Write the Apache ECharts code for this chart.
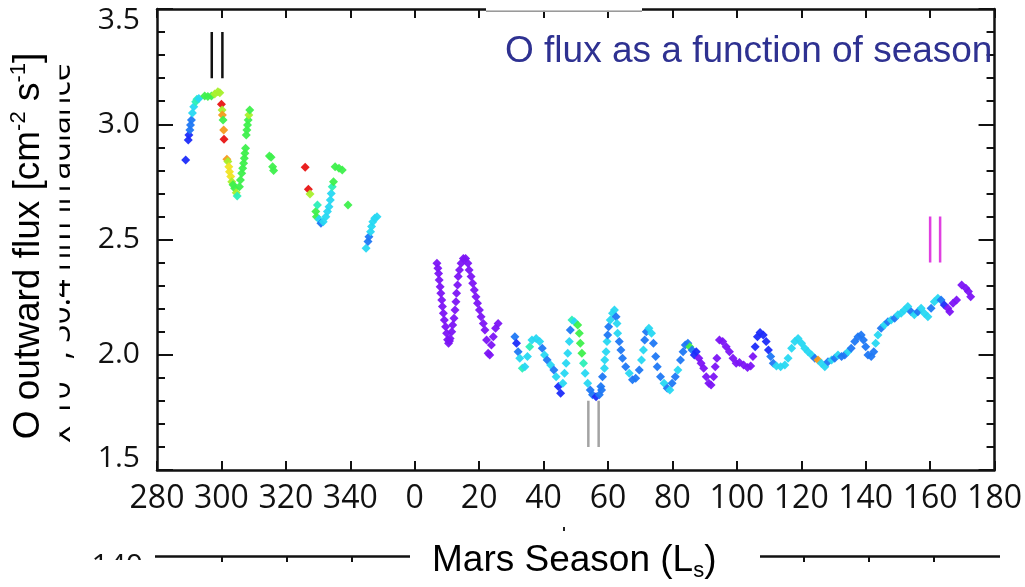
<!DOCTYPE html>
<html><head><meta charset="utf-8">
<script src="https://cdn.jsdelivr.net/npm/echarts@6/dist/echarts.min.js"></script>
<style>html,body{margin:0;padding:0;background:#fff}#c{width:1025px;height:587px}</style>
</head><body><div id="c"></div>
<script>
// ---------- DATA ----------
// Each point: [Ls (deg), O outward flux, colour code 0..9]
const segment1 = [
 [288.9,2.845,1],[289.7,2.932,1],[289.9,2.953,1],[290.2,2.975,2],[290.4,2.997,2],[290.7,3.018,2],
 [291.0,3.049,3],[291.4,3.076,3],[292.0,3.098,4],[292.4,3.108,4],[293.0,3.112,3],[294.8,3.123,5],
 [295.8,3.120,5],[296.9,3.123,5],[297.9,3.131,6],[298.9,3.141,6],[299.5,3.137,6],[300.0,3.087,9],
 [300.2,3.062,6],[300.3,3.040,8],[300.5,3.018,5],[300.7,2.975,8],[300.8,2.935,9],[301.7,2.848,8],
 [302.0,2.838,6],[302.3,2.816,7],[302.5,2.794,7],[302.9,2.773,7],[303.2,2.751,6],[303.6,2.737,5],
 [304.1,2.722,5],[304.6,2.703,6],[304.9,2.689,4],[305.6,2.729,5],[305.9,2.758,5],[306.3,2.787,5],
 [306.6,2.809,5],[306.9,2.831,5],[307.1,2.852,5],[307.3,2.874,5],[307.5,2.896,5],[307.7,2.953,5],
 [307.9,2.975,5],[308.1,2.997,5],[308.3,3.018,5],[308.5,3.040,6],[308.8,3.062,5]
];
const segment2 = [[314.9,2.862,5],[315.4,2.857,5],[315.9,2.816,5],[316.2,2.799,5]];
const segment3 = [
 [326.0,2.813,9],[327.0,2.718,9],[327.5,2.697,6],[329.3,2.621,5],[329.5,2.599,5],[329.8,2.650,4],
 [330.3,2.588,3],[330.9,2.570,2],[331.6,2.577,3],[332.4,2.599,3],[332.9,2.621,3],[333.4,2.642,3],
 [333.8,2.671,3],[334.1,2.700,3],[334.4,2.729,4],[334.8,2.751,5],[335.3,2.816,5],[336.5,2.809,5],
 [337.5,2.802,5],[339.3,2.650,5]
];
const segment4 = [
 [344.9,2.462,3],[345.5,2.491,2],[345.8,2.512,2],[346.3,2.534,3],[346.6,2.556,3],[347.0,2.577,3],
 [347.6,2.592,3],[348.3,2.599,3]
];
const segment5 = [
 [6.9,2.397,0],[7.2,2.375,0],[7.4,2.353,0],[7.6,2.324,0],[7.9,2.295,0],[8.1,2.267,0],[8.4,2.238,0],
 [8.6,2.209,0],[8.9,2.180,0],[9.2,2.151,0],[9.6,2.122,0],[9.9,2.093,0],[10.2,2.065,0],[10.5,2.050,0],
 [10.8,2.060,0],[11.0,2.071,0],[11.5,2.100,0],[11.8,2.129,0],[12.2,2.158,0],[12.5,2.194,0],
 [12.8,2.230,0],[13.0,2.267,0],[13.3,2.303,0],[13.5,2.339,0],[13.9,2.368,0],[14.4,2.397,0],
 [15.1,2.418,0],[15.8,2.418,0],[16.5,2.397,0],[16.9,2.368,0],[17.5,2.339,0],[18.0,2.310,0],
 [18.5,2.281,0],[19.0,2.252,0],[19.5,2.223,0],[20.1,2.194,0],[20.6,2.165,0],[21.3,2.136,0],
 [21.8,2.107,0],[22.3,2.064,0],[22.8,2.006,0],[23.3,1.999,0],[23.8,2.042,0],[24.4,2.078,0],
 [25.1,2.115,0],[25.9,2.136,0]
];
const segment6 = [
 [31.1,2.078,2],[31.6,2.050,1],[32.1,2.013,2],[32.6,1.985,3],[33.4,1.941,4],[34.2,1.948,3],
 [35.0,1.992,3],[35.7,2.035,4],[36.4,2.064,3],[37.7,2.071,3],[38.8,2.057,3],[39.6,2.028,2],
 [40.3,1.999,3],[41.1,1.977,2],[42.2,1.956,3],[43.2,1.934,2],[43.9,1.905,3],[44.6,1.862,1],
 [45.3,1.833,1],[46.0,1.876,3],[46.5,1.920,3],[47.0,1.963,3],[47.5,2.006,3],[48.0,2.057,3],
 [48.3,2.107,2],[48.8,2.151,4],[49.6,2.143,3],[50.6,2.129,5],[51.1,2.093,5],[51.4,2.050,5],
 [51.9,2.006,5],[52.4,1.963,4],[52.9,1.920,3],[53.7,1.876,3],[54.5,1.847,2],[55.2,1.826,2],
 [56.3,1.818,1],[57.3,1.826,2],[58.0,1.847,2],[57.8,1.862,2],[58.3,1.905,2],[58.9,1.941,3],
 [59.0,1.977,3],[59.4,2.013,3],[59.7,2.057,3],[59.9,2.086,2],[60.2,2.122,2],[60.7,2.151,3],
 [61.4,2.180,3],[62.0,2.194,3],[62.5,2.165,2],[62.8,2.136,3],[63.0,2.093,3],[63.5,2.057,2],
 [64.0,2.021,2],[64.5,1.985,2],[65.5,1.948,2],[66.6,1.920,3],[67.6,1.891,2],[68.6,1.898,2],
 [69.7,1.934,2],[70.4,1.977,3],[71.0,2.021,3],[71.4,2.064,2],[71.9,2.100,2],[72.7,2.115,3],
 [73.5,2.093,3],[74.1,2.050,2],[74.8,1.992,2],[75.3,1.948,2],[76.3,1.905,2],[77.4,1.876,3],
 [78.4,1.855,2],[79.2,1.847,3],[79.9,1.876,2],[80.9,1.905,2],[81.7,1.934,3],[82.5,1.977,2],
 [83.3,2.013,2],[84.0,2.042,2],[84.8,2.050,2],[85.4,2.035,5],[86.1,2.021,2],[86.8,1.999,1],
 [87.4,2.013,1]
];
const segment7 = [
 [88.2,1.985,0],[88.9,1.963,0],[89.7,1.941,0],[90.5,1.905,0],[91.3,1.876,0],[92.0,1.869,0],
 [92.8,1.905,0],[93.3,1.948,0],[93.8,1.985,0],[94.6,2.064,0],[95.6,2.057,0],[96.7,2.035,0],
 [97.7,2.013,0],[98.8,1.985,0],[99.8,1.963,0],[100.8,1.966,0],[102.1,1.956,0],[103.3,1.945,0],
 [104.3,1.951,0],[105.0,1.992,0],[105.7,2.035,1],[106.4,2.078,1],[107.2,2.096,1],[108.2,2.086,1],
 [109.1,2.057,1],[109.8,2.021,1],[110.5,1.992,2],[111.3,1.963,2]
];
const segment8 = [
 [112.3,1.951,3],[113.6,1.948,3],[114.9,1.956,3],[115.9,1.985,3],[117.0,2.028,3],[118.0,2.057,3],
 [119.0,2.071,3],[120.1,2.050,3],[121.1,2.028,3],[122.1,2.013,3],[123.2,1.999,3],[124.2,1.985,2],
 [125.2,1.977,8],[126.2,1.963,3],[127.3,1.948,3],[128.3,1.970,2],[129.4,1.977,3],[130.4,1.985,2],
 [131.4,1.999,3],[132.5,1.992,2],[133.5,1.999,2],[134.5,2.013,3],[135.5,2.028,2],[136.6,2.057,2],
 [137.6,2.078,2],[138.6,2.086,2],[139.3,2.064,2],[140.0,2.035,2],[140.7,1.999,2],[141.7,1.992,2],
 [142.5,2.013,2],[143.1,2.050,3],[143.8,2.086,3],[144.8,2.115,2],[145.8,2.129,3],[146.9,2.143,2],
 [147.9,2.151,3],[149.0,2.158,2],[150.0,2.173,3],[151.0,2.180,3],[152.0,2.194,3],[153.1,2.209,3],
 [154.1,2.187,2],[155.1,2.173,3],[156.2,2.187,2],[157.2,2.202,3],[158.2,2.180,3],[159.3,2.165,3],
 [160.3,2.202,2],[161.3,2.230,3],[162.4,2.245,3],[163.4,2.238,2],[164.4,2.216,1],[165.5,2.202,0],
 [166.1,2.187,0],[167.1,2.223,0],[168.2,2.238,0],[169.8,2.303,0],[171.1,2.288,0],[171.9,2.274,0],
 [172.6,2.252,0]
];
// Paired vertical event markers [Ls of each line], [flux bottom, flux top]
const blackMarkLs = [297.0, 300.3];   const blackMarkFlux = [3.20, 3.40];
const greyMarkLs = [53.9, 57.1];      const greyMarkFlux = [1.60, 1.80];
const magentaMarkLs = [160.0, 163.1]; const magentaMarkFlux = [2.40, 2.60];

const xTickValues = [280,300,320,340,360,380,400,420,440,460,480,500,520,540];
const xTickLabels = ['280','300','320','340','0','20','40','60','80','100','120','140','160','180'];
const yTickValues = [1.5,2.0,2.5,3.0,3.5];
const yTickLabels = ['1.5','2.0','2.5','3.0','3.5'];

// ---------- CHART ----------
const toAxis = ls => (ls < 280 ? ls + 360 : ls);
const allPoints = [].concat(segment1, segment2, segment3, segment4, segment5, segment6, segment7, segment8)
  .map(p => [toAxis(p[0]), p[1], p[2]]);
const palette = ['#7c14f6','#1c2cfa','#1f78f4','#27d8f2','#2cefb8','#3ef04c','#a8f02c','#f0e424','#f59a1e','#e81414'];

const markSeries = [];
[[blackMarkLs, blackMarkFlux, '#111111'], [greyMarkLs, greyMarkFlux, '#a3a3a3'], [magentaMarkLs, magentaMarkFlux, '#e03fe0']]
 .forEach(([lsArr, fl, col]) => {
   lsArr.forEach(ls => {
     const x = toAxis(ls);
     markSeries.push({type:'line', data:[[x, fl[0]],[x, fl[1]]], symbol:'none', silent:true,
       lineStyle:{color:col, width:2.5}, z:5});
   });
 });

const axisCol = '#111';
const xLab = v => { const i = xTickValues.indexOf(Math.round(v)); return i >= 0 ? xTickLabels[i] : ''; };
const yLab = v => {
  const i = yTickValues.findIndex(t => Math.abs(t - v) < 1e-6);
  if (i < 0) return '';
  if (i === yTickValues.length - 1) return '{t|' + yTickLabels[i] + '}';
  if (i === 0) return '{b|' + yTickLabels[i] + '}';
  return '{n|' + yTickLabels[i] + '}';
};
const yFont = {fontFamily:'Open Sans', fontSize:30, color:'#111'};

const option = {
  backgroundColor:'#fff',
  animation:false,
  grid:{left:157, right:25, top:9, bottom:117, containLabel:false},
  xAxis:[
    {type:'value', min:280, max:540, interval:20, position:'bottom',
     axisLine:{lineStyle:{color:axisCol, width:2.5}},
     axisTick:{inside:true, length:9, lineStyle:{color:axisCol, width:2}},
     axisLabel:{margin:13, formatter:xLab, showMinLabel:true, showMaxLabel:true,
       fontFamily:'Open Sans', fontSize:32, color:'#111'},
     splitLine:{show:false}},
    {type:'value', min:280, max:540, interval:20, position:'top',
     axisLine:{lineStyle:{color:axisCol, width:2.5}},
     axisTick:{inside:true, length:9, lineStyle:{color:axisCol, width:2}},
     axisLabel:{show:false}, splitLine:{show:false}}
  ],
  yAxis:[
    {type:'value', min:1.5, max:3.5, interval:0.5, position:'left',
     axisLine:{lineStyle:{color:axisCol, width:2.5}},
     axisTick:{inside:true, length:16, lineStyle:{color:axisCol, width:2}},
     minorTick:{show:true, splitNumber:5, length:8, lineStyle:{color:axisCol, width:2}},
     axisLabel:Object.assign({margin:17, formatter:yLab, rich:{
        n:Object.assign({}, yFont),
        t:Object.assign({padding:[22,0,0,0]}, yFont),
        b:Object.assign({padding:[0,0,24,0]}, yFont)}}, yFont),
     splitLine:{show:false}},
    {type:'value', min:1.5, max:3.5, interval:0.5, position:'right',
     axisLine:{lineStyle:{color:axisCol, width:2.5}},
     axisTick:{inside:true, length:16, lineStyle:{color:axisCol, width:2}},
     minorTick:{show:true, splitNumber:5, length:8, lineStyle:{color:axisCol, width:2}},
     axisLabel:{show:false}, splitLine:{show:false}}
  ],
  visualMap:{type:'continuous', show:false, dimension:2, min:0, max:9, seriesIndex:0,
     inRange:{color:palette}},
  series:[
    {type:'scatter', data:allPoints, symbol:'diamond', symbolSize:9, itemStyle:{opacity:0.95}, z:3}
  ].concat(markSeries),
  graphic:[
    // partially covered top border
    {type:'rect', z:100, shape:{x:486, y:6, width:156, height:4.8}, style:{fill:'#fff'}},
    {type:'line', z:101, shape:{x1:486, y1:11.3, x2:642, y2:11.3}, style:{stroke:'#9a9a9a', lineWidth:1.2}},
    // chart title
    {type:'text', z:100, x:505, y:52, style:{text:'O flux as a function of season', fill:'#2e3191',
      font:'37px "Liberation Sans", Arial, sans-serif', align:'left', verticalAlign:'middle'}},
    // hidden background label (mostly covered)
    {type:'text', z:100, x:61, y:253, rotation:Math.PI/2, style:{
      text:'{a|x 10}{s|14}{a|, 30.4 nm irradiance}', align:'center', verticalAlign:'middle',
      rich:{a:{fontFamily:'Open Sans', fontSize:32, color:'#222', lineHeight:38},
            s:{fontFamily:'Open Sans', fontSize:19, color:'#222', verticalAlign:'top', lineHeight:19}}}},
    {type:'rect', z:101, shape:{x:0, y:40, width:59.5, height:430}, style:{fill:'#fff'}},
    // y-axis title
    {type:'text', z:102, x:29, y:246, rotation:Math.PI/2, style:{
      text:'{n|O outward flux [cm}{s|-2}{n| s}{s|-1}{n|]}', align:'center', verticalAlign:'middle',
      rich:{n:{fontFamily:'Liberation Sans', fontSize:37, color:'#3a3a3a', lineHeight:42},
            s:{fontFamily:'Liberation Sans', fontSize:22, color:'#3a3a3a', verticalAlign:'top', lineHeight:22}}}},
    // x-axis title
    {type:'text', z:100, x:432, y:561, style:{
      text:'{n|Mars Season (L}{s|s}{n|)}', align:'left', verticalAlign:'middle',
      rich:{n:{fontFamily:'Liberation Sans', fontSize:37, color:'#333', lineHeight:42},
            s:{fontFamily:'Liberation Sans', fontSize:22, color:'#333', verticalAlign:'bottom', lineHeight:22}}}},
    // fragment of the chart below
    {type:'text', z:100, x:143, y:566, style:{text:'140', font:'30px "Open Sans"', fill:'#111', align:'right', verticalAlign:'middle'}},
    {type:'rect', z:101, shape:{x:80, y:560, width:74, height:30}, style:{fill:'#fff'}},
    {type:'line', z:100, shape:{x1:155, y1:556.5, x2:410, y2:556.5}, style:{stroke:'#111', lineWidth:2.5}},
    {type:'line', z:100, shape:{x1:760, y1:556.5, x2:1000, y2:556.5}, style:{stroke:'#111', lineWidth:2.5}},
    {type:'line', z:100, shape:{x1:222, y1:556, x2:222, y2:562}, style:{stroke:'#111', lineWidth:2}},
    {type:'line', z:100, shape:{x1:287, y1:556, x2:287, y2:562}, style:{stroke:'#111', lineWidth:2}},
    {type:'line', z:100, shape:{x1:352, y1:556, x2:352, y2:562}, style:{stroke:'#111', lineWidth:2}},
    {type:'line', z:100, shape:{x1:804, y1:556, x2:804, y2:562}, style:{stroke:'#111', lineWidth:2}},
    {type:'line', z:100, shape:{x1:869, y1:556, x2:869, y2:562}, style:{stroke:'#111', lineWidth:2}},
    {type:'line', z:100, shape:{x1:934, y1:556, x2:934, y2:562}, style:{stroke:'#111', lineWidth:2}},
    {type:'rect', z:100, shape:{x:563, y:527, width:2, height:4}, style:{fill:'#222'}}
  ]
};
const chart = echarts.init(document.getElementById('c'), null, {renderer:'canvas'});
chart.setOption(option);
</script></body></html>
